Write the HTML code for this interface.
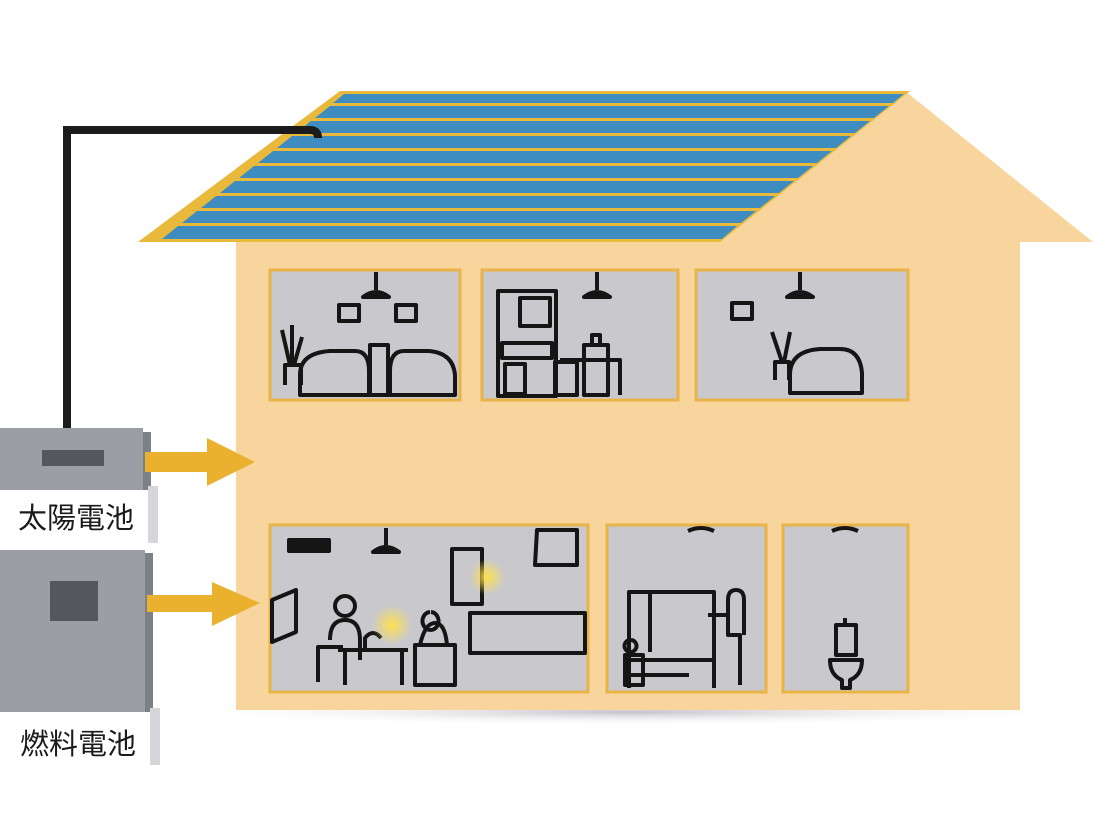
<!DOCTYPE html>
<html><head><meta charset="utf-8"><style>
html,body{margin:0;padding:0;background:#fff;}
svg{display:block}
text{font-family:"Liberation Sans","Noto Sans CJK JP",sans-serif;}
</style></head><body>
<svg width="1100" height="826" viewBox="0 0 1100 826" xmlns="http://www.w3.org/2000/svg">
<defs>
<radialGradient id="glow"><stop offset="0" stop-color="#ffe24a" stop-opacity="0.95"/><stop offset="1" stop-color="#ffe24a" stop-opacity="0"/></radialGradient>
<radialGradient id="sh"><stop offset="0" stop-color="#9a9aa4" stop-opacity="0.6"/><stop offset="1" stop-color="#fff" stop-opacity="0"/></radialGradient>
</defs>
<rect width="1100" height="826" fill="#fff"/>
<ellipse cx="630" cy="712" rx="470" ry="14" fill="url(#sh)"/>
<!-- house -->
<polygon points="905,91 1093,242 1020,242 1020,710 236,710 236,242 138,242 340,91" fill="#f8d59c"/>
<!-- roof -->
<polygon points="340,91 910,91 720,242 138,242" fill="#e9b93c"/>
<g fill="#3f8dc0">
<polygon points="344,94 904,94 893,103 333,103"/>
<polygon points="330,106 889,106 874,118 315,118"/>
<polygon points="311,121 870,121 855,133 296,133"/>
<polygon points="292,136 851,136 836,148 277,148"/>
<polygon points="273,151 832,151 817,163 258,163"/>
<polygon points="254,166 813,166 798,178 239,178"/>
<polygon points="235,181 794,181 779,193 220,193"/>
<polygon points="216,196 775,196 760,208 201,208"/>
<polygon points="197,211 756,211 741,223 182,223"/>
<polygon points="178,226 737,226 722,239 162,239"/>
</g>
<!-- cable -->
<path d="M67,428 V130 H310 Q318,130 318,138" fill="none" stroke="#1b1b1b" stroke-width="8"/>
<!-- windows -->
<g fill="#c9c9cd" stroke="#e8b347" stroke-width="3">
<rect x="270" y="270" width="190" height="130"/>
<rect x="482" y="270" width="196" height="130"/>
<rect x="696" y="270" width="212" height="130"/>
<rect x="270" y="525" width="318" height="167"/>
<rect x="607" y="525" width="159" height="167"/>
<rect x="783" y="525" width="125" height="167"/>
</g>
<!-- line art -->
<g fill="none" stroke="#151515" stroke-width="4" stroke-linejoin="round">
<!-- lamps -->
<path d="M376,272 V290 M597,272 V290 M800,272 V290 M386,528 V545"/>
<path d="M363,297 q13,-10 26,0 z M584,297 q13,-10 26,0 z M787,297 q13,-10 26,0 z M373,552 q13,-10 26,0 z" fill="#151515"/>
<!-- room1 -->
<rect x="339" y="305" width="20" height="16"/><rect x="396" y="305" width="20" height="16"/>
<path d="M300,395 v-20 q0,-22 30,-24 h25 q14,0 14,20 v24 z"/>
<path d="M390,395 v-24 q0,-20 14,-20 h25 q24,2 26,24 v20 z"/>
<rect x="370" y="345" width="18" height="50"/>
<path d="M285,385 v-20 h16 v20 M290,365 l-8,-35 M294,365 l8,-28 M292,365 l0,-40"/>
<!-- room2 -->
<rect x="498" y="291" width="58" height="105"/><rect x="520" y="298" width="30" height="28"/>
<rect x="502" y="343" width="50" height="15"/><rect x="505" y="364" width="20" height="30"/>
<rect x="555" y="362" width="22" height="33"/><rect x="584" y="345" width="24" height="50"/>
<path d="M592,345 v-10 h8 v10 M560,360 h60 v35"/>
<!-- room3 -->
<rect x="732" y="303" width="20" height="16"/>
<path d="M790,393 v-18 q0,-24 30,-26 h20 q20,0 22,24 v20 z"/>
<path d="M775,380 v-18 h14 v18 M782,362 l-10,-30 M784,362 l6,-30"/>
<!-- living -->
<rect x="289" y="540" width="40" height="11" fill="#151515"/>
<path d="M272,600 l24,-10 v42 l-24,10 z"/>
<rect x="452" y="549" width="30" height="55"/>
<path d="M537,530 h40 v35 h-42 z"/>
<path d="M470,613 h115 v40 h-115 z M470,613 v40"/>
<path d="M318,682 v-35 h25 M330,640 q0,-20 15,-20 q15,0 15,20 v20 M345,618 m-10,-12 a10,10 0 1 0 20,0 a10,10 0 1 0 -20,0"/>
<path d="M338,650 h70 M345,650 v35 M402,650 v35 M365,650 v-12 q8,-10 16,0"/>
<path d="M415,685 v-40 h40 v40 z M420,645 q5,-22 15,-22 q10,0 12,22 M430,612 a8,9 0 1 0 1,0"/>
<!-- kitchen -->
<path d="M629,688 v-96 h85 v96 M629,660 h85 M650,592 v60 M629,675 h60"/>
<path d="M740,685 v-50 h-12 v-35 q0,-10 8,-10 q8,0 8,10 v35 M728,615 h-20 M740,655 v30"/>
<path d="M630,640 a6,6 0 1 0 1,0 M625,655 h18 v30 h-18 z"/>
<!-- toilet -->
<path d="M832,531 q13,-6 26,0 M688,531 q13,-6 26,0"/>
<path d="M836,625 h20 v30 h-20 z M830,660 h32 q0,15 -12,20 v8 h-8 v-8 q-12,-5 -12,-20 z M845,618 v7"/>
</g>
<circle cx="487" cy="577" r="18" fill="url(#glow)"/>
<circle cx="392" cy="625" r="20" fill="url(#glow)"/>
<!-- units -->
<rect x="0" y="428" width="143" height="62" fill="#9c9ea5"/>
<rect x="143" y="432" width="8" height="58" fill="#7e8087"/>
<rect x="42" y="450" width="62" height="16" fill="#55575c"/>
<rect x="0" y="490" width="148" height="53" fill="#fff"/>
<rect x="148" y="486" width="10" height="57" fill="#d6d6da"/>
<text x="18" y="528" font-size="29" fill="#1b1b1b">太陽電池</text>
<rect x="0" y="550" width="145" height="162" fill="#9c9ea5"/>
<rect x="145" y="553" width="8" height="159" fill="#7e8087"/>
<rect x="50" y="581" width="48" height="40" fill="#55575c"/>
<rect x="0" y="712" width="150" height="53" fill="#fff"/>
<rect x="150" y="708" width="10" height="57" fill="#d6d6da"/>
<text x="20" y="754" font-size="29" fill="#1b1b1b">燃料電池</text>
<!-- arrows -->
<polygon points="145,452 207,452 207,438 255,462 207,486 207,472 145,472" fill="#eab12f"/>
<polygon points="147,595 212,595 212,582 260,603 212,626 212,612 147,612" fill="#eab12f"/>
</svg>
</body></html>
